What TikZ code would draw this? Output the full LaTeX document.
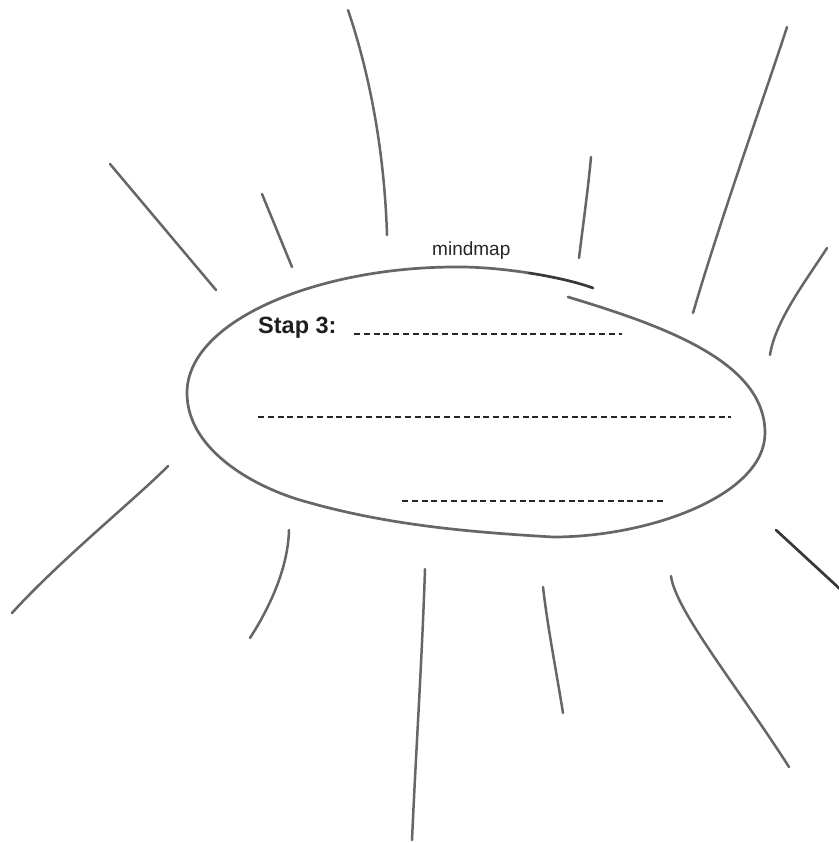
\documentclass[tikz,border=0pt]{standalone}
\usepackage{fontspec}
\setmainfont{Liberation Sans}
\begin{document}
\begin{tikzpicture}[x=1pt,y=-1pt,
  pencil/.style={draw=black!60, line width=2.5pt, line cap=round, line join=round},
  darkpencil/.style={draw=black!78, line width=2.7pt, line cap=round},
  writeline/.style={draw=black!85, line width=1.7pt, dash pattern=on 6pt off 3.8pt},
  smallhead/.style={font=\fontsize{19}{22}\selectfont, text=black!85, inner sep=0pt},
  stephead/.style={font=\bfseries\fontsize{23.5}{26}\selectfont, text=black!88, inner sep=0pt}]
\useasboundingbox (0,0) rectangle (838,843);
\fill[white] (0,0) rectangle (838,843);

% rays above the oval
\draw[pencil] (110,164) -- (216,290);
\draw[pencil] (262,194) -- (292,267);
\draw[pencil] (348,10) .. controls (375,90) and (385,170) .. (387,235);
\draw[pencil] (591,157) .. controls (588,190) and (583,225) .. (579,258);
\draw[pencil] (787,27) .. controls (770,80) and (720,220) .. (693,313);
\draw[pencil] (827,248) .. controls (810,275) and (775,320) .. (770,355);

% rays below the oval
\draw[pencil] (168,466) .. controls (140,495) and (60,560) .. (12,613);
\draw[pencil] (289,530) .. controls (288,570) and (268,610) .. (250,638);
\draw[pencil] (425,569) .. controls (422,660) and (416,750) .. (412,840);
\draw[pencil] (543,587) .. controls (548,630) and (557,675) .. (563,713);
\draw[pencil] (671,576) .. controls (675,610) and (740,690) .. (789,767);
\draw[darkpencil] (776,530) -- (840,589);

% the oval (one stroke, open at the top right)
\draw[pencil, line width=2.7pt]
  (568,297) .. controls (668,327) and (765,363) .. (765,433)
            .. controls (765,495) and (650,537) .. (553,537)
            .. controls (468,532) and (385,525) .. (300,500)
            .. controls (250,485) and (187,448) .. (187,393)
            .. controls (187,320) and (320,266) .. (460,267)
            .. controls (480,267) and (505,269.25) .. (529.125,273);
\draw[darkpencil] (529.125,273) .. controls (553.25,276.75) and (576.5,282) .. (593,288);

% texts
\node[smallhead, anchor=base west] (title) at (432,255) {mindmap};
\node[stephead, anchor=base west] (stap) at (258,333) {Stap 3:};

% writing lines
\draw[writeline] (354,334) -- (622,334);
\draw[writeline] (258,417) -- (731,417);
\draw[writeline] (402,501) -- (665,501);
\end{tikzpicture}
\end{document}
